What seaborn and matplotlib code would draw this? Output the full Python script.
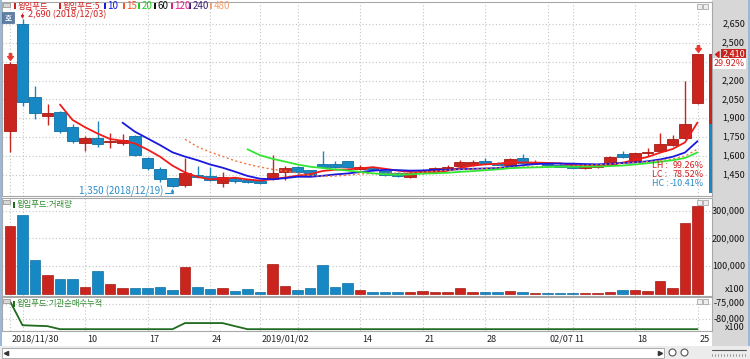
import numpy as np
import pandas as pd
import matplotlib
matplotlib.use("Agg")
import matplotlib.pyplot as plt
import matplotlib.transforms as mtrans
from matplotlib.patches import Rectangle
from matplotlib.path import Path
import seaborn as sns

# ---------------- data ----------------
stock = "윙입푸드"
dates = ["2018/11/30", "2018/12/03", "2018/12/04", "2018/12/05", "2018/12/06", "2018/12/07",
         "2018/12/10", "2018/12/11", "2018/12/12", "2018/12/13", "2018/12/14",
         "2018/12/17", "2018/12/18", "2018/12/19", "2018/12/20", "2018/12/21",
         "2018/12/24", "2018/12/26", "2018/12/27", "2018/12/28",
         "2019/01/02", "2019/01/03", "2019/01/04",
         "2019/01/07", "2019/01/08", "2019/01/09", "2019/01/10", "2019/01/11",
         "2019/01/14", "2019/01/15", "2019/01/16", "2019/01/17", "2019/01/18",
         "2019/01/21", "2019/01/22", "2019/01/23", "2019/01/24", "2019/01/25",
         "2019/01/28", "2019/01/29", "2019/01/30", "2019/01/31", "2019/02/01",
         "2019/02/07", "2019/02/08",
         "2019/02/11", "2019/02/12", "2019/02/13", "2019/02/14", "2019/02/15",
         "2019/02/18", "2019/02/19", "2019/02/20", "2019/02/21", "2019/02/22",
         "2019/02/25"]
opens = [1800, 2650, 2065, 1920, 1950, 1830, 1705, 1740, 1710, 1705, 1760,
         1585, 1493, 1420, 1365, 1450, 1440, 1385, 1420, 1408,
         1400, 1415, 1468, 1510, 1485, 1535, 1535, 1560,
         1495, 1508, 1482, 1466, 1435, 1462, 1483, 1494, 1522, 1528,
         1562, 1545, 1527, 1580, 1540, 1538, 1530,
         1527, 1505, 1515, 1527, 1612, 1562, 1620, 1641, 1687, 1740, 2020]
highs = [2345, 2690, 2160, 2010, 1955, 1855, 1760, 1880, 1780, 1775, 1765,
         1590, 1515, 1425, 1585, 1520, 1515, 1470, 1435, 1415,
         1410, 1605, 1518, 1518, 1490, 1638, 1560, 1562,
         1525, 1520, 1490, 1470, 1470, 1495, 1515, 1530, 1570, 1565,
         1585, 1550, 1580, 1612, 1567, 1545, 1540,
         1530, 1525, 1535, 1600, 1642, 1625, 1660, 1785, 1766, 2200, 2410]
lows = [1630, 2000, 1890, 1845, 1785, 1705, 1640, 1672, 1660, 1685, 1600,
        1488, 1395, 1350, 1355, 1425, 1400, 1355, 1385, 1385,
        1380, 1405, 1410, 1435, 1440, 1505, 1505, 1505,
        1485, 1480, 1440, 1435, 1425, 1455, 1475, 1488, 1515, 1520,
        1535, 1525, 1520, 1540, 1535, 1520, 1510,
        1500, 1495, 1505, 1520, 1585, 1555, 1595, 1635, 1680, 1735, 2010]
closes = [2330, 2030, 1945, 1938, 1800, 1718, 1740, 1695, 1718, 1730, 1607,
          1501, 1413, 1360, 1460, 1430, 1405, 1435, 1400, 1392,
          1385, 1460, 1500, 1475, 1450, 1512, 1512, 1512,
          1515, 1498, 1450, 1440, 1460, 1488, 1505, 1514, 1553, 1548,
          1541, 1530, 1572, 1546, 1545, 1526, 1515,
          1505, 1520, 1525, 1588, 1590, 1620, 1633, 1695, 1734, 1855, 2410]
volumes = [246000, 283400, 123000, 66300, 51800, 51800, 25300, 82000, 36200, 21700, 21700,
           19300, 24100, 14500, 96500, 24100, 16900, 20500, 9600, 16900,
           7200, 108500, 26500, 14500, 19300, 103700, 24100, 39800,
           12000, 7200, 7200, 4800, 4800, 9600, 4800, 4800, 19300, 4800,
           4800, 4800, 9600, 4800, 2400, 2400, 2400,
           2400, 2400, 1000, 7200, 12000, 14500, 9600, 47000, 21700, 254300, 315800]
inst_cum = [-74100, -81850, -82000, -82150, -83120, -83120, -83120, -83120, -83120, -83120,
            -83120, -83120, -83120, -83120, -81150, -81150, -81150, -81150, -82150, -83120,
            -83120, -83120, -83120, -83120, -83120, -83120, -83120, -83120, -83120, -83120,
            -83120, -83120, -83120, -83120, -83120, -83120, -83120, -83120, -83120, -83120,
            -83120, -83120, -83120, -83120, -83120, -83120, -83120, -83120, -83120, -83120,
            -83120, -83120, -83120, -83120, -83120, -83120]
ma_windows = [5, 10, 15, 20]
signal_idx = [0, 55]
price_ticks = [2650, 2500, 2350, 2200, 2050, 1900, 1750, 1600, 1450]
price_tick_labels = ["2,650", "2,500", "", "2,200", "2,050", "1,900", "1,750", "1,600", "1,450"]
vol_ticks = [100000, 200000, 300000]
vol_tick_labels = ["100,000", "200,000", "300,000"]
inst_ticks = [-75000, -80000]
inst_tick_labels = ["-75,000", "-80,000"]
date_tick_idx = [0, 6, 11, 16, 20, 28, 33, 38, 43, 45, 50, 55]
date_tick_labels = ["2018/11/30", "10", "17", "24", "2019/01/02", "14", "21", "28",
                    "02/07", "11", "18", "25"]
extra_grid_idx = [1, 23]
legend_labels = [stock, stock + ":5", "10", "15", "20", "60", "120", "240", "480"]

# ---------------- style ----------------
RED = "#c9241d"
RED_EDGE = "#a81a14"
BLUE = "#1688c4"
BLUE_EDGE = "#0f6fa3"
MA_COLORS = {5: "#f01c1c", 10: "#1818e0", 15: "#f07840", 20: "#33e633"}
LEGEND_COLORS = ["#d02020", "#d02020", "#1818e0", "#f05a28", "#22cc22", "#111111",
                 "#e0208a", "#3a2070", "#f5a070"]
GRID = "#c4c4c4"
GREEN_T = "#2e8a2e"
FS = 6.5

sns.set_theme(style="white")
plt.rcParams["font.family"] = ["Liberation Sans Narrow", "Noto Sans CJK KR", "DejaVu Sans"]
plt.rcParams["axes.unicode_minus"] = False

W, H = 750, 359
fig = plt.figure(figsize=(7.5, 3.59), dpi=100)
fig.patch.set_facecolor("white")


def rect(x0, y0, x1, y1):
    return [x0 / W, 1 - y1 / H, (x1 - x0) / W, (y1 - y0) / H]


def fx(x):
    return x / W


def fy(y):
    return 1 - y / H


df = pd.DataFrame({"date": dates, "open": opens, "high": highs, "low": lows,
                   "close": closes, "volume": volumes, "inst": inst_cum})
df["idx"] = np.arange(len(df))
for w in ma_windows:
    df[f"ma{w}"] = df["close"].rolling(w).mean()
up = df["close"] >= df["open"]
cols = np.where(up, RED, BLUE)
edges = np.where(up, RED_EDGE, BLUE_EDGE)

XL = ((2 - 10) / 12.5, (712 - 10) / 12.5)

ax = fig.add_axes(rect(2, 2, 712, 196))
axv = fig.add_axes(rect(2, 198, 712, 295.5))
axi = fig.add_axes(rect(2, 297, 712, 331))

for a in (ax, axv, axi):
    a.set_xlim(*XL)
    a.set_facecolor("white")
    for s in a.spines.values():
        s.set_color("#a8a8a8")
        s.set_linewidth(0.8)
    a.set_xticks(date_tick_idx)
    a.set_xticks(extra_grid_idx, minor=True)
    a.grid(True, which="both", linestyle=(0, (1, 2)), color=GRID, linewidth=0.8)
    a.set_axisbelow(True)

ax.set_ylim(1280.5, 2825)
axv.set_ylim(-6700, 345900)
axi.set_ylim(-83710, -72742)
ax.set_yticks(price_ticks)
axv.set_yticks(vol_ticks)
axi.set_yticks(inst_ticks)
for a in (ax, axv):
    a.tick_params(length=0, labelleft=False, labelbottom=False, which="both")
axi.tick_params(axis="y", length=0, labelleft=False)
axi.tick_params(axis="x", which="major", direction="out", length=10.8, color="#b4b4b4",
                width=0.8, labelbottom=False)
axi.tick_params(axis="x", which="minor", length=0)

# ---------------- candles ----------------
ax.vlines(df["idx"], df["low"], df["high"], colors=cols, linewidth=1.0, zorder=2)
body_bottom = np.minimum(df["open"], df["close"])
body_h = np.maximum((df["close"] - df["open"]).abs(), 8)
ax.bar(df["idx"], body_h, bottom=body_bottom, width=0.9, color=cols, edgecolor=edges,
       linewidth=0.6, zorder=3)

# moving averages
for w in ma_windows:
    kw = dict(linewidth=1.3)
    if w == 15:
        kw = dict(linewidth=1.0, linestyle=(0, (1.5, 1.8)))
    sns.lineplot(data=df, x="idx", y=f"ma{w}", ax=ax, color=MA_COLORS[w], zorder=4,
                 legend=False, **kw)
ax.set_xlabel("")
ax.set_ylabel("")

# signal arrows above candles
arrow_path = Path([(-0.3, 1.0), (0.3, 1.0), (0.3, 0.25), (0.75, 0.25), (0, -0.75),
                   (-0.75, 0.25), (-0.3, 0.25), (-0.3, 1.0)],
                  [Path.MOVETO] + [Path.LINETO] * 6 + [Path.CLOSEPOLY])
t_up = mtrans.offset_copy(ax.transData, fig=fig, x=0, y=5, units="dots")
ax.plot(df["idx"].iloc[signal_idx], df["high"].iloc[signal_idx], ls="none",
        marker=arrow_path, ms=5.5, color="#e83a30", transform=t_up, zorder=6, clip_on=False)

# max / min annotations
imax = int(df["high"].idxmax())
hmax = df["high"].max()
imin = int(df["low"].idxmin())
lmin = df["low"].min()
ax.annotate("", xy=(imax, hmax), xytext=(0, 5), textcoords="offset pixels",
            arrowprops=dict(arrowstyle="-|>", color="#d02020", lw=0.8, mutation_scale=4,
                            shrinkA=0, shrinkB=0), zorder=6)
t_max = mtrans.offset_copy(ax.transData, fig=fig, x=5, y=4.5, units="dots")
ax.text(imax, hmax, f"{hmax:,} ({dates[imax]})", transform=t_max, ha="left", va="center",
        fontsize=FS, color="#d02020", zorder=7)
t_min = mtrans.offset_copy(ax.transData, fig=fig, x=-9, y=-4, units="dots")
ax.text(imin, lmin, f"{lmin:,} ({dates[imin]})", transform=t_min, ha="right", va="center",
        fontsize=7, color="#2a8cc8", zorder=7)
seg = mtrans.offset_copy(ax.transData, fig=fig, x=0, y=-6, units="dots")
ax.plot([imin - 0.64, imin], [lmin, lmin], color="#2a8cc8", lw=0.8, transform=seg,
        clip_on=False, zorder=6)
ax.annotate("", xy=(imin, lmin), xytext=(0, -6), textcoords="offset pixels",
            arrowprops=dict(arrowstyle="-|>", color="#2a8cc8", lw=0.8, mutation_scale=4,
                            shrinkA=0, shrinkB=1), zorder=6)

# LH / LC / HC stats
last = df["close"].iloc[-1]
stats = [("LH", (hmax - lmin) / lmin * 100, "#d02020"),
         ("LC", (last - lmin) / lmin * 100, "#d02020"),
         ("HC", (last - hmax) / hmax * 100, "#2a8cc8")]
for k, (nm, val, c) in enumerate(stats):
    yy = 166 + k * 8.6
    fig.text(fx(652), fy(yy), f"{nm} :", ha="left", va="center", fontsize=FS, color=c)
    fig.text(fx(704), fy(yy), f"{val:.2f}%", ha="right", va="center", fontsize=FS, color=c)

# ---------------- volume ----------------
axv.bar(df["idx"], df["volume"], width=0.86, color=cols, edgecolor=edges, linewidth=0.5,
        zorder=3)

# ---------------- institution ----------------
sns.lineplot(data=df, x="idx", y="inst", ax=axi, color="#1f6b1f", linewidth=1.3,
             legend=False, zorder=3)
axv.set_xlabel(""); axv.set_ylabel("")
axi.set_xlabel(""); axi.set_ylabel("")

# date labels
t_date = mtrans.offset_copy(mtrans.blended_transform_factory(axi.transData, fig.transFigure),
                            fig=fig, x=2, y=0, units="dots")
for i, lab in zip(date_tick_idx, date_tick_labels):
    axi.text(i, fy(339), lab, transform=t_date, ha="left", va="center", fontsize=FS,
             color="#222222", clip_on=False)

# ---------------- right strip ----------------
fig.patches.append(Rectangle((fx(712), fy(346)), fx(38), 346 / H, transform=fig.transFigure,
                             facecolor="#d7d7d7", edgecolor="none", zorder=-1))
fig.patches.append(Rectangle((fx(748), fy(359)), fx(2), 1, transform=fig.transFigure,
                             facecolor="#9ab8d8", edgecolor="none", zorder=-1))
fig.patches.append(Rectangle((0, fy(359)), fx(1.5), 1, transform=fig.transFigure,
                             facecolor="#9ab8d8", edgecolor="none", zorder=-1))

tr_p = mtrans.blended_transform_factory(fig.transFigure, ax.transData)
for p, lab in zip(price_ticks, price_tick_labels):
    if lab:
        fig.text(fx(745), p, lab, transform=tr_p, ha="right", va="center", fontsize=FS,
                 color="#111111")
tr_v = mtrans.blended_transform_factory(fig.transFigure, axv.transData)
for p, lab in zip(vol_ticks, vol_tick_labels):
    fig.text(fx(745), p, lab, transform=tr_v, ha="right", va="center", fontsize=FS,
             color="#111111")
fig.text(fx(745), fy(289), "x100", ha="right", va="center", fontsize=FS, color="#111111")
tr_i = mtrans.blended_transform_factory(fig.transFigure, axi.transData)
t_i = mtrans.offset_copy(tr_i, fig=fig, x=0, y=1, units="dots")
for p, lab in zip(inst_ticks, inst_tick_labels):
    fig.text(fx(745), p, lab, transform=t_i, ha="right", va="center", fontsize=FS,
             color="#111111")
fig.text(fx(745), fy(328), "x100", ha="right", va="center", fontsize=FS, color="#111111")

# current price box
prev = df["close"].iloc[-2]
chg = (last - prev) / prev * 100
fig.text(fx(745), last, f"{last:,}", transform=tr_p, ha="right", va="center", fontsize=FS,
         color="white", zorder=6,
         bbox=dict(boxstyle="square,pad=0.12", facecolor=RED, edgecolor="none"))
t_chg = mtrans.offset_copy(tr_p, fig=fig, x=0, y=-9.5, units="dots")
fig.text(fx(745), last, f"{chg:.2f}%", transform=t_chg, ha="right", va="center", fontsize=FS,
         color="#d02020", zorder=6,
         bbox=dict(boxstyle="square,pad=0.08", facecolor="white", edgecolor="none"))
# price position bar and marker
tr_ax = mtrans.blended_transform_factory(ax.transAxes, ax.transData)
x_bar = (709 - 2) / 710
ax.add_patch(Rectangle((x_bar, prev), 3 / 710, last - prev, transform=tr_ax,
                       facecolor=RED, edgecolor="none", zorder=5, clip_on=False))
ax.add_patch(Rectangle((x_bar, 1306), 3 / 710, prev - 1306, transform=tr_ax,
                       facecolor=BLUE, edgecolor="none", zorder=5, clip_on=False))
tri = Path([(0, 0), (1, 0.8), (1, -0.8), (0, 0)],
           [Path.MOVETO, Path.LINETO, Path.LINETO, Path.CLOSEPOLY])
fig.lines.append(plt.Line2D([fx(714.5)], [last], transform=tr_p, marker=tri, ms=5,
                            color="#d02020", ls="none", zorder=6))

# ---------------- titles / legend ----------------
mk_x = [14, 59, 104, 123, 138, 154, 171, 189, 210]
for xm, lab, c in zip(mk_x, legend_labels, LEGEND_COLORS):
    fig.patches.append(Rectangle((fx(xm), fy(9)), fx(2.3), 6 / H, transform=fig.transFigure,
                                 facecolor=c, edgecolor="none", zorder=5))
    fs = 6 if any(ord(ch) > 0x1100 for ch in lab) else 7
    fig.text(fx(xm + 3.5), fy(6), lab, ha="left", va="center", fontsize=fs, color=c, zorder=5)


def gray_icon(x, y):
    fig.patches.append(Rectangle((fx(x), fy(y + 4)), fx(7), 4 / H, transform=fig.transFigure,
                                 facecolor="#d8d8d8", edgecolor="#8a8a8a", lw=0.5, zorder=5))


gray_icon(3, 3)
gray_icon(3, 200)
gray_icon(3, 299)
# 호 icon
fig.patches.append(Rectangle((fx(2), fy(23)), fx(12), 11 / H, transform=fig.transFigure,
                             facecolor="#5f7fa8", edgecolor="#4a6a90", lw=0.5, zorder=5))
fig.text(fx(8), fy(17.5), "호", ha="center", va="center", fontsize=5.5, color="white",
         zorder=6, fontweight="bold")

for yt, title in [(205, stock + ":거래량"), (303.5, stock + ":기관순매수누적")]:
    fig.patches.append(Rectangle((fx(13), fy(yt + 3)), fx(2.3), 6 / H,
                                 transform=fig.transFigure, facecolor="#1f6b1f",
                                 edgecolor="none", zorder=5))
    fig.text(fx(17), fy(yt), title, ha="left", va="center", fontsize=6, color=GREEN_T,
             zorder=5)


def corner_icons(ytop):
    for x0 in (697, 703):
        fig.patches.append(Rectangle((fx(x0), fy(ytop + 5)), fx(5), 5 / H,
                                     transform=fig.transFigure, facecolor="#eeeeee",
                                     edgecolor="#999999", lw=0.5, zorder=5))


corner_icons(4)
corner_icons(200)
corner_icons(299)

# ---------------- scrollbar ----------------
fig.patches.append(Rectangle((0, 0), 1, 13 / H, transform=fig.transFigure,
                             facecolor="#ececec", edgecolor="none", zorder=-1))
fig.patches.append(Rectangle((fx(2), fy(358)), fx(662), 10 / H, transform=fig.transFigure,
                             facecolor="white", edgecolor="#a0a0a0", lw=0.6, zorder=2))
fig.lines.append(plt.Line2D([fx(6)], [fy(353)], transform=fig.transFigure, marker="<",
                            ms=3, color="#333333", ls="none", zorder=3))
fig.lines.append(plt.Line2D([fx(660)], [fy(353)], transform=fig.transFigure, marker=">",
                            ms=3, color="#333333", ls="none", zorder=3))
for xi in (672, 684):
    fig.lines.append(plt.Line2D([fx(xi)], [fy(352)], transform=fig.transFigure, marker="o",
                                ms=5, mfc="white", mec="#555555", mew=0.8, ls="none",
                                zorder=3))
fig.lines.append(plt.Line2D([fx(712), fx(746)], [fy(350), fy(350)], transform=fig.transFigure,
                            color="#555555", lw=0.8, zorder=3))
for xt in np.arange(712, 747, 3):
    fig.lines.append(plt.Line2D([fx(xt), fx(xt)], [fy(354), fy(356)],
                                transform=fig.transFigure, color="#777777", lw=0.5,
                                zorder=3))

fig.savefig("out.png", dpi=100)
